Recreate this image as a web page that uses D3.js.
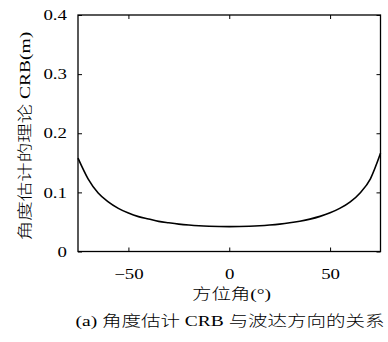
<!DOCTYPE html>
<html><head><meta charset="utf-8">
<script src="https://cdn.jsdelivr.net/npm/d3@7"></script>
<style>body{margin:0;background:#fff}svg{display:block}</style>
</head><body>
<script>
const angles = [-75,-70,-65,-60,-55,-50,-45,-40,-35,-30,-25,-20,-15,-10,-5,0,5,10,15,20,25,30,35,40,45,50,55,60,65,70,75];
const crb = [0.158,0.123,0.099,0.084,0.073,0.065,0.059,0.055,0.051,0.0485,0.0463,0.0447,0.0435,0.0427,0.0422,0.042,0.0422,0.0427,0.0435,0.0447,0.0463,0.0485,0.0513,0.0548,0.0594,0.0654,0.0733,0.084,0.0995,0.123,0.166];
const xTicks = [-50,0,50];
const yTicks = [0,0.1,0.2,0.3,0.4];
const xLabel = "方位角(°)";
const yLabel = "角度估计的理论 CRB(m)";
const caption = "(a) 角度估计 CRB 与波达方向的关系";

(function(){
const W=388,H=342;
const m={l:78,r:380.5,t:15,b:251.5};
const SX=1.3;
const svg=d3.select("body").append("svg").attr("width",W).attr("height",H);
const x=d3.scaleLinear().domain([-75,75]).range([m.l,m.r]);
const y=d3.scaleLinear().domain([0,0.4]).range([m.b,m.t]);
const font="'Liberation Serif','Noto Sans CJK SC',serif";
const tl=4;
function fmt(v){return v<0?"\u2212"+Math.abs(v):String(v);}

const axB=d3.axisBottom(x).tickValues(xTicks).tickSize(-tl).tickPadding(17).tickFormat(fmt);
const axT=d3.axisTop(x).tickValues(xTicks).tickSize(-tl).tickFormat("");
const axL=d3.axisLeft(y).tickValues(yTicks).tickSize(-tl).tickPadding(11).tickFormat(d=>d===0?"0":d3.format(".1f")(d));
const axR=d3.axisRight(y).tickValues(yTicks).tickSize(-tl).tickFormat("");

function style(g){
  g.select(".domain").remove();
  g.selectAll("line").attr("stroke","#000").attr("stroke-width",1);
  g.selectAll("text").style("font-family",font).style("font-size","14.5px").attr("fill","#000")
   .each(function(){const t=d3.select(this);const tx=+t.attr("x")||0, ty=+t.attr("y")||0;
     t.attr("x",0).attr("y",0).attr("transform",`translate(${tx},${ty}) scale(${SX},1)`);});
}
svg.append("g").attr("transform",`translate(0,${m.b})`).call(axB).call(style);
svg.append("g").attr("transform",`translate(0,${m.t})`).call(axT).call(style);
svg.append("g").attr("transform",`translate(${m.l},0)`).call(axL).call(style);
svg.append("g").attr("transform",`translate(${m.r},0)`).call(axR).call(style);

svg.append("rect").attr("x",m.l).attr("y",m.t).attr("width",m.r-m.l).attr("height",m.b-m.t)
  .attr("fill","none").attr("stroke","#000").attr("stroke-width",1.3);

const line=d3.line().x((d,i)=>x(angles[i])).y(d=>y(d)).curve(d3.curveMonotoneX);
svg.append("path").datum(crb).attr("d",line).attr("fill","none").attr("stroke","#000").attr("stroke-width",1.6);

function label(txt,tr){
  svg.append("text").attr("transform",tr+` scale(${SX},1)`).attr("text-anchor","middle")
    .attr("dominant-baseline","central").style("font-family",font).style("font-size","15px")
    .style("font-weight","300").attr("fill","#000").text(txt);
}
label(xLabel,"translate(231.5,294)");
label(yLabel,"translate(25,136) rotate(-90)");
label(caption,"translate(230,321.5)");
})();
</script>
</body></html>
